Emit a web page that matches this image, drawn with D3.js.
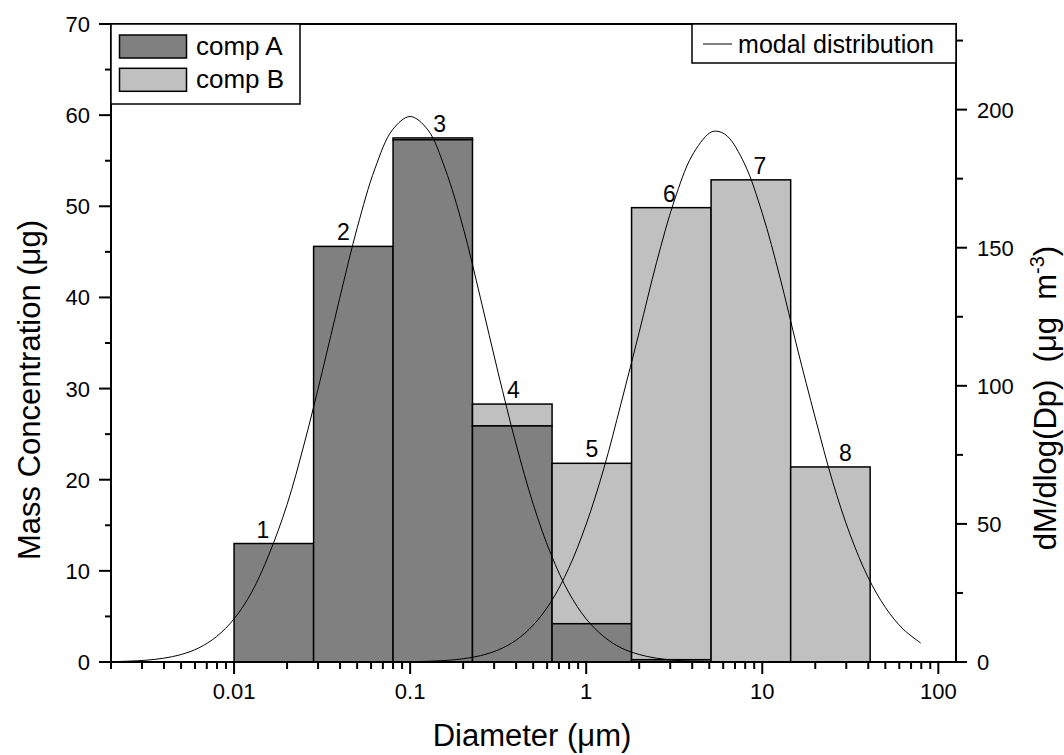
<!DOCTYPE html>
<html>
<head>
<meta charset="utf-8">
<script src="https://cdn.jsdelivr.net/npm/d3@7"></script>
<style>
  html, body { margin: 0; padding: 0; background: #ffffff; }
  svg { display: block; font-family: "Liberation Sans", Arial, sans-serif; }
</style>
</head>
<body>
<svg id="chart" width="1064" height="755"></svg>
<script>
// ---------------- data ----------------
const binEdges = [0.01, 0.0283, 0.08, 0.226, 0.64, 1.81, 5.12, 14.5, 41];
const binLabels = ["1", "2", "3", "4", "5", "6", "7", "8"];
const compA = [13.0, 45.6, 57.3, 25.9, 4.2, 0.25, 0, 0];
const compB = [0, 0, 0.2, 2.4, 17.6, 49.6, 52.9, 21.4];

const mode1Dp = [0.002, 0.00251, 0.00316, 0.00398, 0.00501, 0.00631, 0.00794, 0.01, 0.0126, 0.0158,
  0.02, 0.0251, 0.0316, 0.0398, 0.0501, 0.0631, 0.0794, 0.1, 0.126, 0.158,
  0.2, 0.251, 0.316, 0.398, 0.501, 0.631, 0.794, 1, 1.26, 1.58,
  2.0, 2.51, 3.16, 3.98, 5.01, 6.31];
const mode1Val = [0.13, 0.30, 0.65, 1.37, 2.71, 5.11, 9.17, 15.6, 25.3, 39.0,
  57.0, 79.3, 104.8, 131.7, 157.3, 178.6, 192.7, 197.5, 192.7, 178.6,
  157.3, 131.7, 104.8, 79.3, 57.0, 39.0, 25.3, 15.6, 9.17, 5.11,
  2.71, 1.37, 0.65, 0.30, 0.13, 0.05];

const mode2Dp = [0.1, 0.126, 0.158, 0.2, 0.251, 0.316, 0.398, 0.501, 0.631, 0.794,
  1, 1.26, 1.58, 2.0, 2.51, 3.16, 3.98, 5.01, 5.5, 6.31, 7.94,
  10, 12.6, 15.8, 20.0, 25.1, 31.6, 39.8, 50.1, 63.1, 79.4];
const mode2Val = [0.11, 0.25, 0.55, 1.16, 2.30, 4.34, 7.81, 13.4, 21.8, 33.8,
  49.9, 70.1, 93.8, 119.4, 144.7, 166.9, 183.2, 191.5, 192.2, 190.5, 180.3,
  162.5, 139.3, 113.7, 88.4, 65.3, 46.0, 30.8, 19.7, 11.9, 6.9];

const xMajorTicks = [0.01, 0.1, 1, 10, 100];
const xMajorLabels = ["0.01", "0.1", "1", "10", "100"];
const yLeftTicks = [0, 10, 20, 30, 40, 50, 60, 70];
const yRightTicks = [0, 50, 100, 150, 200];

// ---------------- layout ----------------
const svg = d3.select("#chart");
const L = 111, R = 956, T = 24, B = 662;
const x = d3.scaleLog().domain([0.002, 126]).range([L, R]);
const yL = d3.scaleLinear().domain([0, 70]).range([B, T]);
const yR = d3.scaleLinear().domain([0, 231]).range([B, T]);

const colA = "#808080", colB = "#c0c0c0";
const tickFont = 22;
const titleFont = 31;

// bars (stacked)
const bars = binLabels.map((lab, i) => ({
  lab, x0: binEdges[i], x1: binEdges[i + 1], a: compA[i], b: compB[i]
}));
const gBars = svg.append("g");
bars.forEach(d => {
  if (d.b > 0) {
    gBars.append("rect")
      .attr("x", x(d.x0)).attr("width", x(d.x1) - x(d.x0))
      .attr("y", yL(d.a + d.b)).attr("height", yL(d.a) - yL(d.a + d.b))
      .attr("fill", colB).attr("stroke", "#000").attr("stroke-width", 1.5);
  }
  if (d.a > 0) {
    gBars.append("rect")
      .attr("x", x(d.x0)).attr("width", x(d.x1) - x(d.x0))
      .attr("y", yL(d.a)).attr("height", yL(0) - yL(d.a))
      .attr("fill", colA).attr("stroke", "#000").attr("stroke-width", 1.5);
  }
});

// bar number labels
const labelDx = [-11, -10, 7, 1, 0, -2, 9, 15];
svg.append("g").selectAll("text").data(bars).join("text")
  .attr("x", (d, i) => (x(d.x0) + x(d.x1)) / 2 + labelDx[i])
  .attr("y", d => yL(d.a + d.b) - 6)
  .attr("text-anchor", "middle")
  .attr("font-size", 23)
  .text(d => d.lab);

// modal distribution curves
const line = d3.line().x(d => x(d[0])).y(d => yR(d[1])).curve(d3.curveCatmullRom.alpha(0.5));
[[mode1Dp, mode1Val], [mode2Dp, mode2Val]].forEach(([dp, v]) => {
  svg.append("path")
    .datum(dp.map((p, i) => [p, v[i]]))
    .attr("d", line)
    .attr("fill", "none").attr("stroke", "#000").attr("stroke-width", 1);
});

// ---------------- axes ----------------
const axisW = 2;
svg.append("line").attr("x1", L).attr("x2", R).attr("y1", T).attr("y2", T)
  .attr("stroke", "#000").attr("stroke-width", axisW);
svg.append("line").attr("x1", L).attr("x2", R).attr("y1", B).attr("y2", B)
  .attr("stroke", "#000").attr("stroke-width", axisW);
svg.append("line").attr("x1", L).attr("x2", L).attr("y1", T - 1).attr("y2", B + 1)
  .attr("stroke", "#000").attr("stroke-width", axisW);
svg.append("line").attr("x1", R).attr("x2", R).attr("y1", T - 1).attr("y2", B + 1)
  .attr("stroke", "#000").attr("stroke-width", axisW);

// x ticks
const xMinor = [];
[0.001, 0.01, 0.1, 1, 10, 100].forEach(dec => {
  for (let k = 2; k <= 9; k++) {
    const v = dec * k;
    if (v >= 0.002 - 1e-9 && v <= 126) xMinor.push(v);
  }
});
const gx = svg.append("g");
xMinor.forEach(v => gx.append("line").attr("x1", x(v)).attr("x2", x(v))
  .attr("y1", B).attr("y2", B + 7).attr("stroke", "#000").attr("stroke-width", 2));
xMajorTicks.forEach((v, i) => {
  gx.append("line").attr("x1", x(v)).attr("x2", x(v))
    .attr("y1", B).attr("y2", B + 12).attr("stroke", "#000").attr("stroke-width", 2);
  gx.append("text").attr("x", x(v)).attr("y", B + 37)
    .attr("text-anchor", "middle").attr("font-size", tickFont).text(xMajorLabels[i]);
});

// left y ticks
const gyl = svg.append("g");
d3.range(5, 70, 10).forEach(v => gyl.append("line").attr("x1", L - 6).attr("x2", L)
  .attr("y1", yL(v)).attr("y2", yL(v)).attr("stroke", "#000").attr("stroke-width", 2));
yLeftTicks.forEach(v => {
  gyl.append("line").attr("x1", L - 12).attr("x2", L)
    .attr("y1", yL(v)).attr("y2", yL(v)).attr("stroke", "#000").attr("stroke-width", 2);
  gyl.append("text").attr("x", L - 21).attr("y", yL(v) + 8)
    .attr("text-anchor", "end").attr("font-size", tickFont).text(v);
});

// right y ticks
const gyr = svg.append("g");
d3.range(25, 231, 50).forEach(v => gyr.append("line").attr("x1", R).attr("x2", R + 7)
  .attr("y1", yR(v)).attr("y2", yR(v)).attr("stroke", "#000").attr("stroke-width", 2));
yRightTicks.forEach(v => {
  gyr.append("line").attr("x1", R).attr("x2", R + 11)
    .attr("y1", yR(v)).attr("y2", yR(v)).attr("stroke", "#000").attr("stroke-width", 2);
  gyr.append("text").attr("x", R + 21).attr("y", yR(v) + 8)
    .attr("text-anchor", "start").attr("font-size", tickFont).text(v);
});

// axis titles
svg.append("text").attr("x", 532).attr("y", 746).attr("text-anchor", "middle")
  .attr("font-size", titleFont).text("Diameter (μm)");
svg.append("text").attr("transform", "translate(40,390) rotate(-90)")
  .attr("text-anchor", "middle").attr("font-size", titleFont).text("Mass Concentration (μg)");
const rt = svg.append("text").attr("transform", "translate(1056,398) rotate(-90)")
  .attr("text-anchor", "middle").attr("font-size", 31).style("white-space", "pre");
rt.append("tspan").text("dM/dlog(Dp)  (μg  m");
rt.append("tspan").attr("dy", -12).attr("font-size", 20).text("-3");
rt.append("tspan").attr("dy", 12).text(")");

// ---------------- legends ----------------
const lg1 = svg.append("g");
lg1.append("rect").attr("x", L).attr("y", T).attr("width", 300 - L).attr("height", 104 - T)
  .attr("fill", "#fff").attr("stroke", "#000").attr("stroke-width", 1.5);
[["comp A", colA], ["comp B", colB]].forEach(([name, c], i) => {
  const yy = 35 + i * 33.3;
  lg1.append("rect").attr("x", 119.5).attr("y", yy).attr("width", 67).attr("height", 23)
    .attr("fill", c).attr("stroke", "#000").attr("stroke-width", 1.5);
  lg1.append("text").attr("x", 196).attr("y", yy + 20).attr("font-size", 26).text(name);
});

const lg2 = svg.append("g");
lg2.append("rect").attr("x", 692).attr("y", T).attr("width", R - 692).attr("height", 63 - T)
  .attr("fill", "#fff").attr("stroke", "#000").attr("stroke-width", 1.5);
const lg2t = lg2.append("text").attr("x", 934).attr("y", 53).attr("text-anchor", "end")
  .attr("font-size", 25).text("modal distribution");
const tw = lg2t.node().getComputedTextLength();
lg2.append("line").attr("x1", 703).attr("x2", 934 - tw - 6).attr("y1", 44).attr("y2", 44)
  .attr("stroke", "#000").attr("stroke-width", 1);
</script>
</body>
</html>
